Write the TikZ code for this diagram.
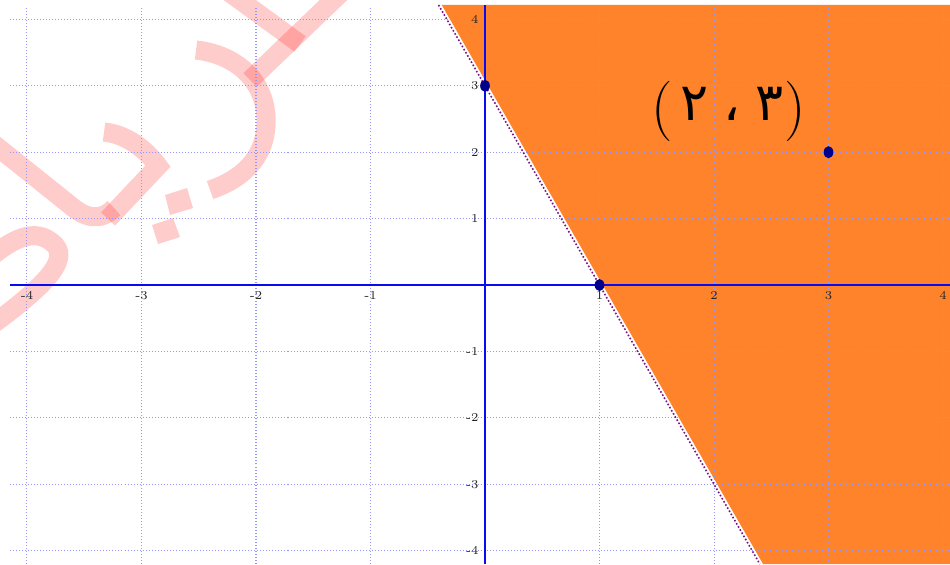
\documentclass[tikz,border=0pt]{standalone}
\usepackage{fontspec}
\usetikzlibrary{positioning}
\newfontfamily\arabicfont[Script=Arabic]{DejaVu Sans}
\newcommand{\ardigit}[1]{{\arabicfont\fontsize{26}{30}\selectfont #1}}
\newcommand{\bigparen}[1]{\raisebox{-3pt}{\fontsize{30}{32}\selectfont #1}}
\definecolor{gridBlue}{RGB}{150,150,255}
\definecolor{axisBlue}{RGB}{10,10,240}
\definecolor{regionOrange}{RGB}{255,131,42}
\definecolor{borderPurple}{RGB}{120,20,130}
\definecolor{pointNavy}{RGB}{0,0,140}

\begin{document}
\begin{tikzpicture}[x=2cm, y=1.16cm,
  gridline/.style={gridBlue, densely dotted, line width=0.5pt},
  axisline/.style={axisBlue, line width=1.3pt},
  tick/.style={font=\fontsize{6}{7}\selectfont, inner sep=0pt, text=black!85},
  bound/.style={borderPurple, densely dotted, line width=0.8pt},
  wmark/.style={red, opacity=0.2, line width=9.5pt}]
\useasboundingbox (-4.2358,-4.2018) rectangle (4.0611,4.2922);

% Watermark (pixel units)
\begin{scope}[shift={(-4.2358,4.2922)}, x=0.017467cm, y=-0.017467cm]
\draw[wmark] (250,80) -- (348,-14);
\draw[wmark] (226,-10) -- (300,44);
\draw[wmark] (196,50) .. controls (240,55) and (268,85) .. (266,125) .. controls (264,160) and (240,180) .. (210,190);
\draw[wmark] (104,132) .. controls (125,134) and (145,148) .. (158,166) -- (108,219);
\draw[wmark] (-15,137) -- (70,205) .. controls (85,218) and (100,222) .. (114,208);
\fill[red, opacity=0.2] (165,195) -- (187,188) -- (193,208) -- (170,215) -- cycle;
\fill[red, opacity=0.2] (152,225) -- (173,218) -- (180,237) -- (158,244) -- cycle;
\draw[wmark] (-15,262) .. controls (10,240) and (35,225) .. (55,245) .. controls (70,262) and (40,290) .. (-15,330);
\end{scope}

% Half-plane
\coordinate (ltop) at (-0.4057,4.217);
\coordinate (lbot) at (2.4006,-4.2018);
\fill[regionOrange] ([xshift=1.6pt]ltop) -- (4.0611,4.217) -- (4.0611,-4.2018) -- ([xshift=1.6pt]lbot) -- cycle;

% Grid
\foreach \i in {-4,...,4} {
  \draw[gridline] (\i,-4.2018) -- (\i,4.205);
  \draw[gridline] (-4.15,\i) -- (4.0611,\i);
}

% Boundary line
\draw[bound] (ltop) -- (lbot);

% Axes
\draw[axisline] (-4.15,0) -- (4.0611,0);
\draw[axisline] (0,-4.2018) -- (0,4.217);

% Tick labels
\foreach \i in {-4,-3,-2,-1,1,2,3,4} {
  \node[tick, anchor=north] (xl\i) at ([yshift=-3pt]\i,0) {\i};
  \node[tick, anchor=east] (yl\i) at ([xshift=-3pt]0,\i) {\i};
}

% Points
\coordinate (A) at (0,3);
\coordinate (B) at (1,0);
\coordinate (P) at (3,2);
\foreach \p in {A,B,P} \fill[pointNavy] (\p) ellipse (2.4pt and 3pt);

% Point label
\node[anchor=base west, inner sep=0pt] (plabel) at (1.45,2.485)
  {\bigparen{(}\kern4pt\ardigit{٢}\kern7pt\ardigit{،}\kern8pt\ardigit{٣}\kern0pt\bigparen{)}};
\end{tikzpicture}
\end{document}
